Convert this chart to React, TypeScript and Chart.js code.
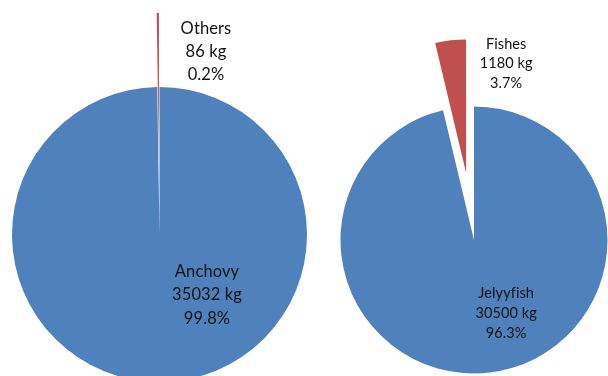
import React, { useEffect, useRef, useState } from "react";
import { Chart, registerables } from "chart.js";

Chart.register(...registerables);

// Catch composition, kg
const anchovyCategories = ["Anchovy", "Others"];
const anchovyValues = [35032, 86];
const jellyCategories = ["Jelyyfish", "Fishes"];
const jellyValues = [30500, 1180];
const sliceColors = ["#4F81BD", "#C0504D"];

// Pull the last slice straight out along its mid angle, keeping its radius.
const explodeLast = {
  id: "explodeLast",
  afterDatasetsUpdate(chart: any, _args: any, opts: any) {
    const meta = chart.getDatasetMeta(0);
    const arc: any = meta.data[meta.data.length - 1];
    if (!arc || !opts.shift) return;
    const mid = (arc.startAngle + arc.endAngle) / 2;
    arc.x += Math.cos(mid) * opts.shift;
    arc.y += Math.sin(mid) * opts.shift;
  },
};

// Three-line data labels: name, weight, share
const sliceLabels = {
  id: "sliceLabels",
  afterDraw(chart: any, _args: any, opts: any) {
    const meta = chart.getDatasetMeta(0);
    const base: any = meta.data[0];
    if (!base) return;
    const values: number[] = chart.data.datasets[0].data;
    const total = values.reduce((a, b) => a + b, 0);
    const r = base.outerRadius;
    const ctx: any = chart.ctx;
    ctx.save();
    ctx.fillStyle = "#111111";
    ctx.font = `${opts.fontSize}px Lato, "Open Sans", sans-serif`;
    // a hair of tracking keeps "fi" as two separate glyphs
    ctx.letterSpacing = "0.1px";
    ctx.textAlign = "center";
    ctx.textBaseline = "middle";
    values.forEach((v, i) => {
      const [fx, fy] = opts.spots[i];
      const cx = base.x + fx * r;
      const cy = base.y + fy * r;
      const lines = [
        chart.data.labels[i],
        `${v} kg`,
        `${((v / total) * 100).toFixed(1)}%`,
      ];
      lines.forEach((t: string, k: number) => {
        ctx.fillText(t, cx, cy + (k - 1) * opts.lineHeight);
      });
    });
    ctx.restore();
  },
};

type PieProps = {
  labels: string[];
  values: number[];
  left: number;
  width: number;
  height: number;
  radius: number;
  shift: number;
  spots: number[][];
  fontSize: number;
  lineHeight: number;
};

function Pie({ labels, values, left, width, height, radius, shift, spots, fontSize, lineHeight }: PieProps) {
  const ref = useRef<HTMLCanvasElement | null>(null);
  const [err, setErr] = useState("");
  useEffect(() => {
    if (!ref.current) return;
    let chart: any = null;
    try {
      chart = new Chart(ref.current, {
        type: "pie",
        data: {
          labels,
          datasets: [
            {
              data: values,
              backgroundColor: sliceColors,
              borderWidth: 0,
            },
          ],
        },
        options: {
          responsive: false,
          animation: false,
          radius,
          layout: { padding: 0 },
          plugins: {
            legend: { display: false },
            tooltip: { enabled: false },
            title: { display: false },
            explodeLast: { shift },
            sliceLabels: { spots, fontSize, lineHeight },
          } as any,
        },
        plugins: [explodeLast, sliceLabels],
      });
    } catch (e: any) {
      setErr(String(e && e.stack ? e.stack : e));
    }
    return () => {
      if (chart) chart.destroy();
    };
  }, []);
  return (
    <>
      <canvas
        ref={ref}
        width={width}
        height={height}
        style={{ position: "absolute", left, top: 0, width, height }}
      />
      {err ? (
        <div style={{ position: "absolute", left, top: 0, width, fontSize: 10 }}>{err}</div>
      ) : null}
    </>
  );
}

export default function App() {
  return (
    <div
      style={{
        position: "fixed",
        left: 0,
        top: 0,
        width: 608,
        height: 376,
        overflow: "hidden",
        background: "#ffffff",
      }}
    >
      <Pie
        labels={anchovyCategories}
        values={anchovyValues}
        left={0}
        width={319}
        height={469}
        radius={147.5}
        shift={74}
        spots={[
          [0.322, 0.41],
          [0.315, -1.239],
        ]}
        fontSize={16.5}
        lineHeight={23.3}
      />
      <Pie
        labels={jellyCategories}
        values={jellyValues}
        left={339}
        width={270}
        height={480}
        radius={133.5}
        shift={67.5}
        spots={[
          [0.241, 0.551],
          [0.241, -1.321],
        ]}
        fontSize={14.5}
        lineHeight={19.8}
      />
    </div>
  );
}
